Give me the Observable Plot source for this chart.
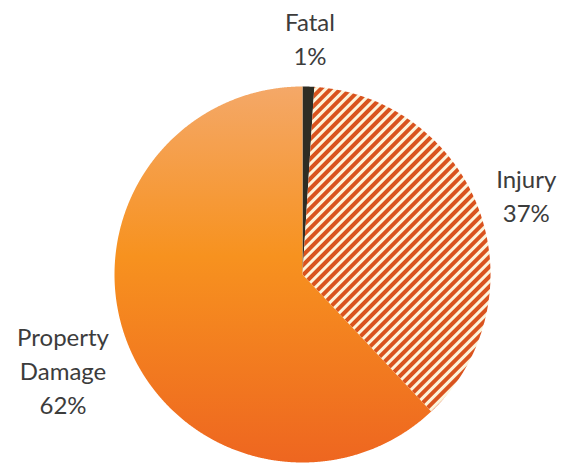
<!DOCTYPE html>
<html><head><meta charset="utf-8">
<script src="https://cdn.jsdelivr.net/npm/d3@7"></script>
<script src="https://cdn.jsdelivr.net/npm/@observablehq/plot@0.6"></script>
<style>body{margin:0;background:#fff;overflow:hidden}</style>
</head><body>
<svg width="0" height="0" style="position:absolute">
  <defs>
    <pattern id="hatch" patternUnits="userSpaceOnUse" width="10" height="7" patternTransform="rotate(-45)">
      <rect width="10" height="7" fill="#fdf4da"/>
      <rect width="10" height="4" fill="#d9531e"/>
    </pattern>
    <linearGradient id="orangeGrad" x1="0" y1="0" x2="0" y2="1">
      <stop offset="0" stop-color="#f4a868"/>
      <stop offset="0.45" stop-color="#f7921f"/>
      <stop offset="1" stop-color="#ee6620"/>
    </linearGradient>
  </defs>
</svg>
<div id="chart"></div>
<script>
// Data
const categories = ["Fatal", "Injury", "Property Damage"];
const shares = [1, 37, 62];
const labelNames = ["Fatal", "Injury", "Property\nDamage"];

// Styles (not data)
const sliceFills = ["#2e2d24", "url(#hatch)", "url(#orangeGrad)"];

const W = 561, H = 465;
const cx = 302, cy = 274, rPx = 188;

const arcs = d3.pie().sort(null).value(d => d)(shares);

const pts = [];
arcs.forEach((a, i) => {
  const cat = categories[i];
  pts.push({cat, x: 0, y: 0});
  const n = Math.max(2, Math.ceil((a.endAngle - a.startAngle) / 0.004));
  for (let k = 0; k <= n; k++) {
    const t = a.startAngle + (a.endAngle - a.startAngle) * k / n;
    pts.push({cat, x: Math.sin(t), y: Math.cos(t)});
  }
  pts.push({cat, x: 0, y: 0});
});

const labels = arcs.map((a, i) => {
  const mid = (a.startAngle + a.endAngle) / 2;
  const lines = labelNames[i].split("\n").length + 1;
  const R = lines > 2 ? 1.37 : 1.265;
  return {text: labelNames[i] + "\n" + shares[i] + "%", x: R * Math.sin(mid), y: R * Math.cos(mid)};
});

const chart = Plot.plot({
  width: W,
  height: H,
  margin: 0,
  x: {domain: [-cx / rPx, (W - cx) / rPx], axis: null},
  y: {domain: [-(H - cy) / rPx, cy / rPx], axis: null},
  color: {type: "ordinal", domain: categories, range: sliceFills},
  style: {background: "#fff"},
  marks: [
    Plot.line(pts, {x: "x", y: "y", z: "cat", fill: "cat", stroke: "none", curve: "linear"}),
    Plot.text(labels, {
      x: "x", y: "y", text: "text",
      fontSize: 24, lineHeight: 1.42,
      fontFamily: "Lato, sans-serif",
      fill: "#3c3c3c", textAnchor: "middle"
    })
  ]
});
document.getElementById("chart").appendChild(chart);
</script>
</body></html>
